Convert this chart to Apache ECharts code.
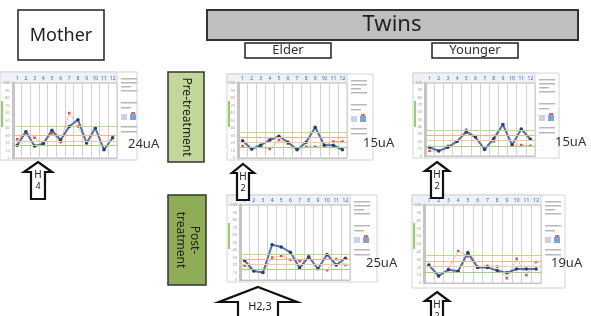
<!DOCTYPE html>
<html><head><meta charset="utf-8">
<script src="https://cdn.jsdelivr.net/npm/echarts@6/dist/echarts.min.js"></script>
<style>html,body{margin:0;padding:0;background:#fff}#c{width:591px;height:316px}</style>
</head><body><div id="c"></div>
<script>
// ---- data ----
const categories = ['1','2','3','4','5','6','7','8','9','10','11','12'];
const yTicks = [0,10,20,30,40,50,60,70,80,90,100];
const motherBlue = [17, 35, 16, 19, 37, 24, 42, 51, 20, 40, 11, 27];
const motherRed  = [25, 35, 27, 19, 33, 21, 60, 42, 20, 40, 11, 27];
const elderPreBlue = [23, 12, 17, 24, 29, 21, 11, 21, 41, 17, 17, 11];
const elderPreRed  = [16, 12, 15, 12, 24, 19, 11, 15, 15, 17, 22, 22];
const youngerPreBlue = [12, 7, 12, 20, 33, 26, 9, 24, 43, 15, 37, 23];
const youngerPreRed  = [7, 7, 14, 20, 36, 26, 9, 20, 43, 15, 15, 14];
const elderPostBlue = [26, 12, 10, 47, 44, 37, 16, 31, 15, 34, 20, 29];
const elderPostRed  = [19, 12, 10, 30, 32, 27, 25, 29, 15, 13, 28, 20];
const youngerPostBlue = [23, 9, 17, 15, 39, 20, 20, 16, 13, 18, 18, 18];
const youngerPostRed  = [23, 9, 18, 41, 34, 21, 22, 21, 6, 31, 10, 27];
const motherRefs = [42, 30, 23, 17];
const twinRefs = [35, 28, 21, 14];
const currents = ['24uA', '15uA', '15uA', '25uA', '19uA'];
const arrowLabels = [['H','4'], ['H','2'], ['H','2'], ['H2,3'], ['H','2']];

// ---- layout ----
const FONT = 'Noto Sans';
const refColors = ['#b9d98f', '#f2b47f', '#f4c9a0', '#a9d07c'];
const panels = [
  {frame:[0,72,137,88],   grid:{left:12, top:83, width:105, height:75}, blue:motherBlue, red:motherRed, refs:motherRefs, ua:[128,144]},
  {frame:[227,74,146,86], grid:{left:238,top:83, width:109, height:75}, blue:elderPreBlue, red:elderPreRed, refs:twinRefs, ua:[363,143]},
  {frame:[413,73,146,85], grid:{left:425,top:83, width:110, height:73}, blue:youngerPreBlue, red:youngerPreRed, refs:twinRefs, ua:[555,142]},
  {frame:[227,195,150,87],grid:{left:240,top:205,width:110, height:75}, blue:elderPostBlue, red:elderPostRed, refs:twinRefs, ua:[366,263]},
  {frame:[412,195,153,93],grid:{left:424,top:205,width:117, height:78}, blue:youngerPostBlue, red:youngerPostRed, refs:twinRefs, ua:[551,263]}
];
const arrows = [
  {cx:38,  ty:162, hw:14, hh:10, bw:7,  by:199, fs:10},
  {cx:243, ty:164, hw:11, hh:9,  bw:6,  by:200, fs:10},
  {cx:437, ty:162, hw:12, hh:9,  bw:6,  by:198, fs:10},
  {cx:258, ty:287, hw:39, hh:15, bw:20, by:320, fs:11},
  {cx:437, ty:292, hw:12, hh:9,  bw:6,  by:320, fs:10}
];

const grids=[], xAxes=[], yAxes=[], series=[], graphics=[];
panels.forEach((p,i)=>{
  const [fx,fy,fw,fh]=p.frame;
  const g=p.grid;
  graphics.push({type:'rect', z:-10, shape:{x:fx,y:fy,width:fw,height:fh}, style:{fill:'#fff',stroke:'#d4d4d4',lineWidth:1}});
  graphics.push({type:'rect', z:-9, shape:{x:fx,y:fy,width:g.left+g.width-fx,height:g.top-fy}, style:{fill:'#eef1f6',stroke:'#d4d4d4',lineWidth:1}});
  graphics.push({type:'rect', z:-9, shape:{x:fx+1,y:g.top+18,width:2,height:26}, style:{fill:'#9ccc6a'}});
  const rx=g.left+g.width+4;
  [6,10,14,18,30,35,54,59].forEach((dy,k)=>{
    graphics.push({type:'rect', z:-8, shape:{x:rx,y:fy+dy,width:(k%3===2?10:16),height:1.5}, style:{fill:'#b8b8b8'}});
  });
  graphics.push({type:'rect', z:-8, shape:{x:rx,y:fy+42,width:6,height:6}, style:{fill:'#c9d3e6'}});
  graphics.push({type:'rect', z:-8, shape:{x:rx+9,y:fy+42,width:6,height:6}, style:{fill:'#7fa0d8'}});
  graphics.push({type:'rect', z:-8, shape:{x:rx+10,y:fy+40,width:4,height:2}, style:{fill:'#e06b5a'}});
  grids.push({left:g.left, top:g.top, width:g.width, height:g.height, show:true, borderColor:'#c9c9c9', borderWidth:1, backgroundColor:'transparent'});
  xAxes.push({type:'category', gridIndex:i, data:categories, position:'top', boundaryGap:true,
    axisLine:{show:true,lineStyle:{color:'#c4c4c4'}}, axisTick:{show:false},
    axisLabel:{fontSize:5, color:'#3a66c0', margin:2, fontFamily:FONT, interval:0},
    splitLine:{show:true, lineStyle:{color:'#d2d2d2', width:1}}});
  yAxes.push({type:'value', gridIndex:i, min:0, max:100, interval:10,
    axisLine:{show:true,lineStyle:{color:'#c4c4c4',width:3}}, axisTick:{show:false},
    axisLabel:{fontSize:4, color:'#a0a0a0', margin:3, fontFamily:FONT, formatter:v=>yTicks.includes(v)?String(v):''},
    splitLine:{show:false}});
  series.push({type:'line', xAxisIndex:i, yAxisIndex:i, data:p.red, symbol:'rect', symbolSize:2.5, z:3,
    lineStyle:{color:'#e8806e', width:1, type:'dotted'}, itemStyle:{color:'#d4584a'},
    markLine:{silent:true, symbol:'none', label:{show:false}, animation:false,
      data:p.refs.map((v,k)=>({yAxis:v, lineStyle:{color:refColors[k], width:1, type:'solid'}}))}});
  series.push({type:'line', xAxisIndex:i, yAxisIndex:i, data:p.blue, symbol:'circle', symbolSize:3.5, z:4,
    lineStyle:{color:'#4f70b4', width:2}, itemStyle:{color:'#2f3e66'}});
  graphics.push({type:'text', z:20, x:p.ua[0], y:p.ua[1], style:{text:currents[i], fontSize:13, fontFamily:FONT, fill:'#333', align:'left', verticalAlign:'middle'}});
});

arrows.forEach((a,i)=>{
  const pts=[[a.cx,a.ty],[a.cx+a.hw,a.ty+a.hh],[a.cx+a.bw,a.ty+a.hh],[a.cx+a.bw,a.by],[a.cx-a.bw,a.by],[a.cx-a.bw,a.ty+a.hh],[a.cx-a.hw,a.ty+a.hh]];
  graphics.push({type:'polygon', z:20, shape:{points:pts}, style:{fill:'#fff',stroke:'#111',lineWidth:2.2}});
  const lab=arrowLabels[i];
  if(lab.length===2){
    graphics.push({type:'text', z:21, x:a.cx, y:a.ty+13, style:{text:lab[0],fontSize:a.fs,fontFamily:FONT,fill:'#222',align:'center',verticalAlign:'middle'}});
    graphics.push({type:'text', z:21, x:a.cx, y:a.ty+24, style:{text:lab[1],fontSize:a.fs-1,fontFamily:FONT,fill:'#222',align:'center',verticalAlign:'middle'}});
  } else {
    graphics.push({type:'text', z:21, x:a.cx+2, y:a.ty+20, style:{text:lab[0],fontSize:a.fs,fontFamily:FONT,fill:'#222',align:'center',verticalAlign:'middle'}});
  }
});

graphics.push({type:'rect', z:20, shape:{x:18,y:10,width:86,height:50}, style:{fill:'#fff',stroke:'#222',lineWidth:1.5}});
graphics.push({type:'text', z:21, x:61, y:36, style:{text:'Mother',fontSize:18,fontFamily:FONT,fill:'#222',align:'center',verticalAlign:'middle'}});
graphics.push({type:'rect', z:20, shape:{x:207,y:10,width:371,height:30}, style:{fill:'#bfbfbf',stroke:'#333',lineWidth:2}});
graphics.push({type:'text', z:21, x:392, y:25, style:{text:'Twins',fontSize:22,fontFamily:FONT,fill:'#222',align:'center',verticalAlign:'middle'}});
graphics.push({type:'rect', z:20, shape:{x:245,y:43,width:86,height:15}, style:{fill:'#fff',stroke:'#222',lineWidth:1.5}});
graphics.push({type:'text', z:21, x:288, y:50.5, style:{text:'Elder',fontSize:13,fontFamily:FONT,fill:'#333',align:'center',verticalAlign:'middle'}});
graphics.push({type:'rect', z:20, shape:{x:432,y:43,width:86,height:15}, style:{fill:'#fff',stroke:'#222',lineWidth:1.5}});
graphics.push({type:'text', z:21, x:475, y:50.5, style:{text:'Younger',fontSize:13,fontFamily:FONT,fill:'#333',align:'center',verticalAlign:'middle'}});
graphics.push({type:'rect', z:20, shape:{x:168,y:72,width:36,height:90}, style:{fill:'#c4d79b',stroke:'#333',lineWidth:1.5}});
graphics.push({type:'text', z:21, x:186, y:117, rotation:-Math.PI/2, style:{text:'Pre-treatment',fontSize:12,fontFamily:FONT,fill:'#222',align:'center',verticalAlign:'middle'}});
graphics.push({type:'rect', z:20, shape:{x:168,y:195,width:38,height:90}, style:{fill:'#8fad56',stroke:'#333',lineWidth:1.5}});
graphics.push({type:'text', z:21, x:187, y:240, rotation:-Math.PI/2, style:{text:'Post-\ntreatment',fontSize:12,lineHeight:14,fontFamily:FONT,fill:'#222',align:'center',verticalAlign:'middle'}});

const chart = echarts.init(document.getElementById('c'), null, {renderer:'canvas'});
chart.setOption({animation:false, backgroundColor:'#fff', grid:grids, xAxis:xAxes, yAxis:yAxes, series:series, graphic:graphics});
</script></body></html>
